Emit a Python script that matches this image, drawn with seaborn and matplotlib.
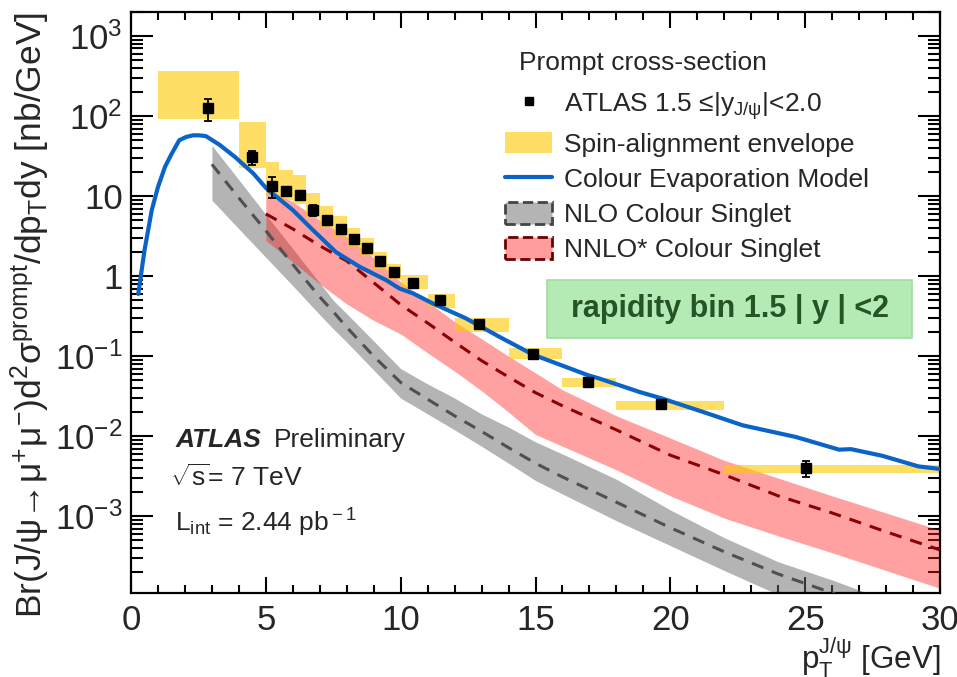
import numpy as np
import pandas as pd
import seaborn as sns
import matplotlib.pyplot as plt
from matplotlib.lines import Line2D
from matplotlib.patches import Patch, FancyBboxPatch
from matplotlib.ticker import FixedLocator, FixedFormatter, LogLocator, NullFormatter, MultipleLocator

# ATLAS prompt J/psi points, 1.5 < |y| < 2.0
pt_data = [2.86, 4.5, 5.22, 5.75, 6.25, 6.75, 7.26, 7.77, 8.26, 8.74, 9.25, 9.74,
           10.46, 11.47, 12.89, 14.9, 16.94, 19.66, 25.03]
xsec_data = [125, 30.5, 13.4, 11.5, 10.2, 6.7, 5.0, 3.87, 2.93, 2.26, 1.55, 1.13,
             0.83, 0.50, 0.25, 0.107, 0.0477, 0.0251, 0.00402]
xsec_err = [37, 6.0, 4.0, 1.0, 0.8, 1.0, 0.7, 0.35, 0.25, 0.2, 0.12, 0.09,
            0.06, 0.035, 0.018, 0.008, 0.005, 0.0025, 0.0009]

# spin-alignment envelope, one box per pT bin
bin_lo = [1, 4, 5, 5.5, 6, 6.5, 7, 7.5, 8, 8.5, 9, 9.5, 10, 11, 12, 14, 16, 18, 22]
bin_hi = [4, 5, 5.5, 6, 6.5, 7, 7.5, 8, 8.5, 9, 9.5, 10, 11, 12, 14, 16, 18, 22, 30]
env_lo = [92, 22.6, 10.3, 9.0, 8.0, 5.3, 4.0, 3.05, 2.3, 1.78, 1.22, 0.9,
          0.69, 0.40, 0.20, 0.092, 0.041, 0.0211, 0.0035]
env_hi = [365, 84, 26.4, 21.5, 18.3, 10.8, 7.5, 5.6, 3.95, 2.96, 1.98, 1.44,
          1.03, 0.60, 0.30, 0.126, 0.054, 0.0277, 0.00436]

# Colour Evaporation Model
cem_pt = [0.27, 0.5, 0.77, 1.0, 1.26, 1.5, 1.79, 2.05, 2.31, 2.55, 2.78, 3.3, 3.85,
          4.53, 5.02, 5.4, 6.0, 6.75, 7.6, 8.48, 9.47, 9.96, 10.46, 11.2, 12.43, 13.67,
          14.9, 16.94, 17.37, 18.85, 19.7, 21.2, 22.68, 24.65, 26.26, 26.7, 27.86, 29.2, 30]
cem_xsec = [0.6, 2.1, 6.7, 13, 23.2, 33.5, 50, 55, 57.6, 57.5, 56.2, 43.4, 31,
            19.3, 12.5, 9.8, 6.7, 3.76, 2.0, 1.31, 0.89, 0.70, 0.61, 0.455, 0.296, 0.174,
            0.105, 0.058, 0.0526, 0.0358, 0.0296, 0.0202, 0.0137, 0.0098, 0.0068, 0.0069,
            0.0057, 0.0042, 0.0039]

# NLO colour singlet band
nlo_pt = [3, 4, 5, 6, 7, 7.5, 8, 9, 10, 11, 12, 13, 14, 15, 16, 18, 20, 22, 24, 26, 28]
nlo_lo = [8.9, 3.9, 1.72, 0.76, 0.33, 0.22, 0.15, 0.067, 0.03, 0.019, 0.012, 0.0075,
          0.0046, 0.0028, 0.0019, 0.00088, 0.00043, 0.00021, 0.000105, 0.00005, 0.000025]
nlo_mid = [25, 9.5, 3.7, 1.4, 0.55, 0.36, 0.23, 0.1, 0.047, 0.029, 0.018, 0.0115,
           0.0072, 0.0046, 0.0031, 0.0015, 0.00072, 0.00036, 0.00019, 0.00011, 0.00006]
nlo_hi = [43, 16, 5.9, 2.2, 0.82, 0.5, 0.34, 0.155, 0.07, 0.045, 0.03, 0.019,
          0.013, 0.0085, 0.006, 0.0029, 0.0012, 0.00054, 0.00027, 0.00016, 0.00009]

# NNLO* colour singlet band
nnlo_pt = [5, 6, 7, 8, 9, 10, 11, 12, 13, 14, 15, 16, 18, 20, 22, 24, 26, 28, 30]
nnlo_lo = [2.8, 1.5, 0.8, 0.45, 0.28, 0.19, 0.11, 0.065, 0.037, 0.02, 0.0105, 0.0075,
           0.0038, 0.0018, 0.00095, 0.00057, 0.00035, 0.00021, 0.000126]
nnlo_mid = [6.0, 3.9, 2.4, 1.55, 0.83, 0.44, 0.26, 0.15, 0.088, 0.055, 0.035, 0.024,
            0.012, 0.0058, 0.0033, 0.0018, 0.0011, 0.00064, 0.00038]
nnlo_hi = [12.5, 8.5, 5.0, 3.1, 1.7, 0.85, 0.48, 0.27, 0.165, 0.1, 0.062, 0.038,
           0.018, 0.0095, 0.005, 0.003, 0.0018, 0.0011, 0.00067]

ytick_vals = [1e-3, 1e-2, 1e-1, 1, 10, 1e2, 1e3]
ytick_labels = [r'$\mathregular{10^{-3}}$', r'$\mathregular{10^{-2}}$', r'$\mathregular{10^{-1}}$',
                '1', '10', r'$\mathregular{10^{2}}$', r'$\mathregular{10^{3}}$']
xtick_vals = [0, 5, 10, 15, 20, 25, 30]

sns.set_style('ticks')
plt.rcParams['font.family'] = ['Liberation Sans', 'DejaVu Sans']
plt.rcParams['mathtext.fontset'] = 'custom'
plt.rcParams['mathtext.rm'] = 'Liberation Sans'
plt.rcParams['mathtext.it'] = 'Liberation Sans:italic'
plt.rcParams['mathtext.bf'] = 'Liberation Sans:bold'

fig = plt.figure(figsize=(9.57, 6.77), dpi=100)
ax = fig.add_axes([131 / 957, 84 / 677, 809 / 957, 581 / 677])

col_yel = '#ffc800'
col_red = '#ff2020'
col_grey = '#6a6a6a'
col_blue = '#0a64c8'

# theory bands
ax.fill_between(nlo_pt, nlo_lo, nlo_hi, color=col_grey, alpha=0.5, lw=0, zorder=1)
ax.fill_between(nnlo_pt, nnlo_lo, nnlo_hi, color=col_red, alpha=0.42, lw=0, zorder=1)

# spin-alignment envelope boxes
widths = np.array(bin_hi) - np.array(bin_lo)
heights = np.array(env_hi) - np.array(env_lo)
ax.bar(bin_lo, heights, width=widths, bottom=env_lo, align='edge',
       color=col_yel, alpha=0.6, lw=0, zorder=2)

nlo_df = pd.DataFrame({'pt': nlo_pt, 'xs': nlo_mid})
nnlo_df = pd.DataFrame({'pt': nnlo_pt, 'xs': nnlo_mid})
cem_df = pd.DataFrame({'pt': cem_pt, 'xs': cem_xsec})

sns.lineplot(data=nlo_df, x='pt', y='xs', ax=ax, color='#505050', lw=2.2,
             estimator=None, zorder=3)
ax.lines[-1].set_dashes((4, 3))
sns.lineplot(data=nnlo_df, x='pt', y='xs', ax=ax, color='#8b0000', lw=2.2,
             estimator=None, zorder=3)
ax.lines[-1].set_dashes((4, 3))
sns.lineplot(data=cem_df, x='pt', y='xs', ax=ax, color=col_blue, lw=3,
             estimator=None, zorder=4)

ax.errorbar(pt_data, xsec_data, yerr=xsec_err, fmt='s', color='black',
            ms=7, elinewidth=1.3, capsize=3, capthick=1.3, zorder=5)

ax.set_yscale('log')
ax.set_xlim(0, 30)
ax.set_ylim(1.1e-4, 2000)

ax.yaxis.set_major_locator(FixedLocator(ytick_vals))
ax.yaxis.set_major_formatter(FixedFormatter(ytick_labels))
ax.yaxis.set_minor_locator(LogLocator(base=10, subs=np.arange(2, 10), numticks=30))
ax.yaxis.set_minor_formatter(NullFormatter())
ax.xaxis.set_major_locator(FixedLocator(xtick_vals))
ax.xaxis.set_minor_locator(MultipleLocator(1))

ax.tick_params(which='both', direction='in', top=True, right=True, width=1.5, color='black')
ax.tick_params(axis='y', which='major', length=16, labelsize=25, pad=6)
ax.tick_params(axis='y', which='minor', length=8.5)
ax.tick_params(axis='x', which='major', length=11.5, labelsize=25, pad=8)
ax.tick_params(axis='x', which='minor', length=6)
for sp in ax.spines.values():
    sp.set_linewidth(1.6)
    sp.set_color('black')

ax.set_xlabel(r'p$_{\rm T}^{\rm J/\psi}$ [GeV]', fontsize=22.5, loc='right', labelpad=-1)
ax.set_ylabel(r'Br(J/ψ→μ$^{+}$μ$^{-}$)d$^{2}$σ$^{\rm prompt}$/dp$_{\rm T}$dy [nb/GeV]',
              fontsize=25.5, loc='top', labelpad=2)

# legend
ax.text(0.479, 0.913, 'Prompt cross-section', transform=ax.transAxes,
        fontsize=19, va='center', ha='left')
handles = [
    Line2D([], [], marker='s', color='black', ls='none', ms=6),
    Patch(facecolor=col_yel, alpha=0.6, edgecolor='none'),
    Line2D([], [], color=col_blue, lw=3),
    Patch(facecolor='#b4b4b4', edgecolor='#444444', linestyle='--', lw=2),
    Patch(facecolor='#ff9c9c', edgecolor='#6b0000', linestyle='--', lw=2),
]
labels = [
    r'ATLAS 1.5 ≤|y$_{\rm J/\psi}$|<2.0',
    'Spin-alignment envelope',
    'Colour Evaporation Model',
    'NLO Colour Singlet',
    'NNLO* Colour Singlet',
]
ax.legend(handles, labels, loc='upper left', bbox_to_anchor=(0.462, 0.866),
          frameon=False, fontsize=19, handlelength=1.8, handleheight=0.9,
          handletextpad=0.45, labelspacing=0.38, borderpad=0, borderaxespad=0)

# rapidity bin label
box = FancyBboxPatch((0.514, 0.439), 0.451, 0.1, boxstyle='square,pad=0',
                     transform=ax.transAxes, facecolor='#b4ebb4', edgecolor='#a2dca2',
                     lw=1.2, zorder=6)
ax.add_patch(box)
ax.text(0.74, 0.489, 'rapidity bin 1.5 | y | <2', transform=ax.transAxes,
        fontsize=22, fontweight='bold', color='#265426', ha='center', va='center', zorder=7)

# ATLAS label
ax.text(0.055, 0.264, 'ATLAS', transform=ax.transAxes, fontsize=19,
        fontweight='bold', fontstyle='italic', va='center')
ax.text(0.177, 0.264, 'Preliminary', transform=ax.transAxes, fontsize=19, va='center')
ax.text(0.048, 0.198, r'$\sqrt{\rm s}$= 7 TeV', transform=ax.transAxes, fontsize=19, va='center')
ax.text(0.055, 0.12, r'L$_{\rm int}$ = 2.44 pb$^{\rm -1}$', transform=ax.transAxes,
        fontsize=19, va='center')

fig.savefig('out.png', dpi=100)
